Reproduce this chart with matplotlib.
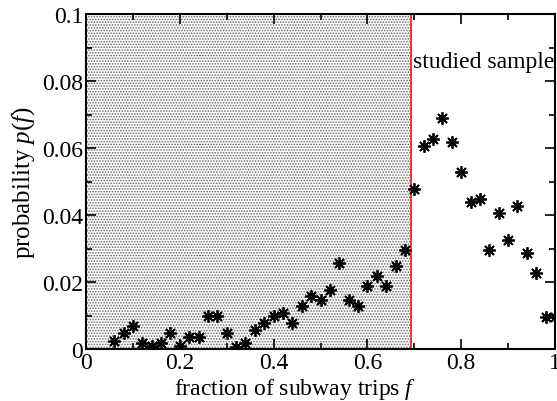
import numpy as np
import matplotlib
matplotlib.use("Agg")
import matplotlib.pyplot as plt
from matplotlib.ticker import MultipleLocator

# fraction of subway trips f and probability p(f)
f_vals = [0.06, 0.08, 0.10, 0.12, 0.14, 0.16, 0.18, 0.20, 0.22, 0.24,
          0.26, 0.28, 0.30, 0.32, 0.34, 0.36, 0.38, 0.40, 0.42, 0.44,
          0.46, 0.48, 0.50, 0.52, 0.54, 0.56, 0.58, 0.60, 0.62, 0.64,
          0.66, 0.68, 0.70, 0.72, 0.74, 0.76, 0.78, 0.80, 0.82, 0.84,
          0.86, 0.88, 0.90, 0.92, 0.94, 0.96, 0.98, 1.00]
p_vals = [0.0025, 0.0048, 0.0068, 0.0018, 0.0010, 0.0018, 0.0048, 0.0008, 0.0035, 0.0035,
          0.0098, 0.0098, 0.0048, 0.0005, 0.0018, 0.0058, 0.0078, 0.0098, 0.0107, 0.0078,
          0.0127, 0.0157, 0.0147, 0.0177, 0.0257, 0.0147, 0.0127, 0.0187, 0.0217, 0.0187,
          0.0247, 0.0297, 0.0478, 0.0607, 0.0627, 0.0689, 0.0619, 0.0527, 0.0438, 0.0448,
          0.0297, 0.0406, 0.0326, 0.0428, 0.0287, 0.0227, 0.0097, 0.0097]

cutoff = 0.692  # start of studied sample
label_text = "studied sample"
xticks = [0, 0.2, 0.4, 0.6, 0.8, 1.0]
xtick_labels = ['0', '0.2', '0.4', '0.6', '0.8', '1']
yticks = [0, 0.02, 0.04, 0.06, 0.08, 0.1]
ytick_labels = ['0', '0.02', '0.04', '0.06', '0.08', '0.1']

plt.rcParams['font.family'] = ['Liberation Serif', 'DejaVu Serif']
plt.rcParams['mathtext.fontset'] = 'custom'
plt.rcParams['mathtext.it'] = 'Liberation Serif:italic'
plt.rcParams['mathtext.rm'] = 'Liberation Serif'
plt.rcParams['hatch.linewidth'] = 0.8

fig = plt.figure(figsize=(5.57, 4.02), dpi=100)
ax = fig.add_axes([86 / 557, 52 / 402, 469 / 557, 335 / 402])

# stippled region left of the cut
ax.axvspan(0, cutoff, facecolor='white', edgecolor='#6a6a6a', hatch='......', linewidth=0, zorder=0)
ax.axvline(cutoff, color='#ff2020', linewidth=1.3, zorder=1)

ax.plot(f_vals, p_vals, linestyle='none', marker=(8, 2, 0), markersize=9,
        markeredgewidth=1.3, color='black', zorder=3)

ax.text(cutoff + 0.005, 0.0857, label_text, fontsize=17, va='center', ha='left')

ax.set_xlim(0, 1)
ax.set_ylim(0, 0.1)
ax.set_xticks(xticks)
ax.set_xticklabels(xtick_labels)
ax.set_yticks(yticks)
ax.set_yticklabels(ytick_labels)
ax.xaxis.set_minor_locator(MultipleLocator(0.1))
ax.yaxis.set_minor_locator(MultipleLocator(0.01))
ax.tick_params(which='both', direction='in', top=True, right=True, labelsize=17, width=1.2)
ax.tick_params(which='major', length=7)
ax.tick_params(which='minor', length=4)
ax.tick_params(axis='x', pad=2)
ax.tick_params(axis='y', pad=2)
for sp in ax.spines.values():
    sp.set_linewidth(1.5)

ax.set_xlabel(r'fraction of subway trips $f$', fontsize=17, labelpad=0)
ax.xaxis.set_label_coords(0.446, -0.08)
ax.set_ylabel(r'probability $p(f)$', fontsize=18, labelpad=4)

fig.savefig('out.png', dpi=100)
